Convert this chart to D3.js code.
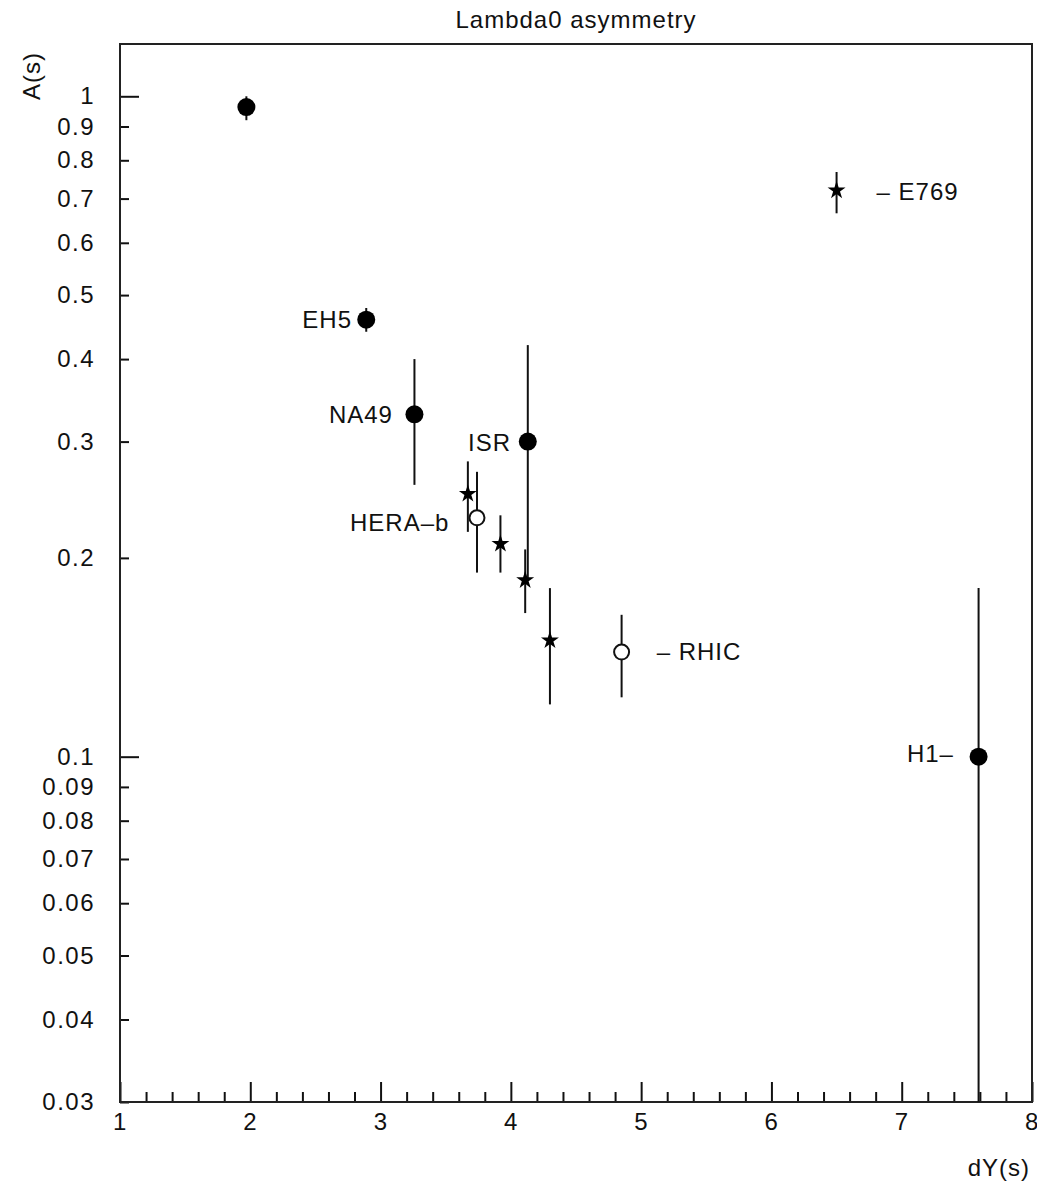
<!DOCTYPE html>
<html>
<head>
<meta charset="utf-8">
<script src="https://cdn.jsdelivr.net/npm/d3@7"></script>
<style>
  html, body { margin: 0; padding: 0; background: #fff; }
  svg text { font-family: "Liberation Sans", Arial, sans-serif; fill: #111; }
</style>
</head>
<body>
<svg id="chart" width="1037" height="1182"></svg>
<script>
// Lambda0 asymmetry A(s) versus rapidity gap dY(s), per experiment

// Filled circles
const circleDY    = [1.97, 2.89, 3.26, 4.13, 7.59];
const circleA     = [0.963, 0.459, 0.33, 0.30, 0.10];
const circleUpper = [1.00, 0.478, 0.40, 0.42, 0.18];
const circleLower = [0.92, 0.44, 0.258, 0.185, 0.001];

// Stars
const starDY    = [3.67, 3.92, 4.11, 4.30, 6.50];
const starA     = [0.25, 0.21, 0.185, 0.15, 0.72];
const starUpper = [0.28, 0.232, 0.206, 0.18, 0.768];
const starLower = [0.219, 0.19, 0.165, 0.12, 0.665];

// Open circles
const openDY    = [3.74, 4.85];
const openA     = [0.23, 0.144];
const openUpper = [0.27, 0.164];
const openLower = [0.19, 0.123];

// Experiment labels, placed in data coordinates
const labelText   = ["EH5", "NA49", "ISR", "HERA–b", "H1–", "– RHIC", "– E769"];
const labelDY     = [2.781, 3.095, 4.001, 3.528, 7.401, 5.119, 6.807];
const labelA      = [0.459, 0.33, 0.299, 0.226, 0.101, 0.1446, 0.717];
const labelAnchor = ["end", "end", "end", "end", "end", "start", "start"];

// Axis ticks
const xMajorTicks = [1, 2, 3, 4, 5, 6, 7, 8];
const xMinorTicks = d3.range(1, 8.001, 0.2).filter(v => Math.abs(v - Math.round(v)) > 1e-6);
const yTicks = [0.03, 0.04, 0.05, 0.06, 0.07, 0.08, 0.09, 0.1, 0.2, 0.3, 0.4, 0.5, 0.6, 0.7, 0.8, 0.9, 1];
const yMajorTicks = [0.1, 1];
const yTickLabels = ["0.03", "0.04", "0.05", "0.06", "0.07", "0.08", "0.09", "0.1", "0.2", "0.3", "0.4", "0.5", "0.6", "0.7", "0.8", "0.9", "1"];

const margin = { left: 120, right: 5, top: 44, bottom: 80 };
const W = 1037, H = 1182;
const plotW = W - margin.left - margin.right;
const plotH = H - margin.top - margin.bottom;

const svg = d3.select("#chart");
const g = svg.append("g").attr("transform", `translate(${margin.left},${margin.top})`);

const x = d3.scaleLinear().domain([1, 8]).range([0, plotW]);
const y = d3.scaleLog().domain([0.03, 1.2]).range([plotH, 0]).clamp(true);

const fontSize = 24;
const spacing = "1.5px";

// Title
svg.append("text")
  .attr("x", margin.left + plotW / 2).attr("y", 28)
  .attr("text-anchor", "middle")
  .style("font-size", fontSize + "px").style("letter-spacing", "1px")
  .text("Lambda0 asymmetry");

// Y axis (log), ticks pointing inward
const yAxis = d3.axisLeft(y)
  .tickValues(yTicks)
  .tickFormat((d, i) => yTickLabels[i])
  .tickSize(-9).tickSizeOuter(0).tickPadding(25);
const gy = g.append("g").call(yAxis);
gy.selectAll(".tick line").attr("x2", d => yMajorTicks.includes(d) ? 19 : 9);

// X axis: minor and labelled major ticks pointing inward
const gxMinor = g.append("g").attr("transform", `translate(0,${plotH})`)
  .call(d3.axisBottom(x).tickValues(xMinorTicks).tickFormat("").tickSize(-10).tickSizeOuter(0));
const gx = g.append("g").attr("transform", `translate(0,${plotH})`)
  .call(d3.axisBottom(x).tickValues(xMajorTicks).tickFormat(d3.format("d")).tickSize(-20).tickSizeOuter(0).tickPadding(11));

[gy, gxMinor, gx].forEach(a => {
  a.selectAll("line").attr("stroke", "#111").attr("stroke-width", 2);
  a.select(".domain").remove();
  a.selectAll("text").style("font-size", fontSize + "px").style("letter-spacing", spacing).attr("fill", "#111");
});

// Frame
g.append("rect")
  .attr("x", 0).attr("y", 0).attr("width", plotW).attr("height", plotH)
  .attr("fill", "none").attr("stroke", "#222").attr("stroke-width", 2);

// Axis titles
svg.append("text")
  .attr("transform", `translate(40,100) rotate(-90)`)
  .attr("text-anchor", "start")
  .style("font-size", fontSize + "px").style("letter-spacing", "1px")
  .text("A(s)");
svg.append("text")
  .attr("x", 1030).attr("y", 1176)
  .attr("text-anchor", "end")
  .style("font-size", fontSize + "px").style("letter-spacing", "1px")
  .text("dY(s)");

// Assemble point records for each marker style
const toPoints = (dy, a, up, lo) => dy.map((v, i) => ({ dy: v, a: a[i], up: up[i], lo: lo[i] }));
const circles = toPoints(circleDY, circleA, circleUpper, circleLower);
const stars = toPoints(starDY, starA, starUpper, starLower);
const opens = toPoints(openDY, openA, openUpper, openLower);

// Error bars
const bars = g.append("g").attr("stroke", "#111").attr("stroke-width", 2);
[...circles, ...opens, ...stars].forEach(p => {
  bars.append("line")
    .attr("x1", x(p.dy)).attr("x2", x(p.dy))
    .attr("y1", y(p.up)).attr("y2", y(p.lo));
});

// Markers
g.append("g").selectAll("circle.open").data(opens).join("circle")
  .attr("cx", d => x(d.dy)).attr("cy", d => y(d.a)).attr("r", 7.5)
  .attr("fill", "#fff").attr("stroke", "#111").attr("stroke-width", 2);

g.append("g").selectAll("circle.full").data(circles).join("circle")
  .attr("cx", d => x(d.dy)).attr("cy", d => y(d.a)).attr("r", 9)
  .attr("fill", "#000");

const star = d3.symbol().type(d3.symbolStar).size(100);
g.append("g").selectAll("path").data(stars).join("path")
  .attr("transform", d => `translate(${x(d.dy)},${y(d.a)})`)
  .attr("d", star).attr("fill", "#000");

// Experiment labels
g.append("g").selectAll("text").data(labelText).join("text")
  .attr("x", (d, i) => x(labelDY[i]))
  .attr("y", (d, i) => y(labelA[i]))
  .attr("dy", "0.36em")
  .attr("text-anchor", (d, i) => labelAnchor[i])
  .style("font-size", fontSize + "px").style("letter-spacing", "1px")
  .text(d => d);
</script>
</body>
</html>
